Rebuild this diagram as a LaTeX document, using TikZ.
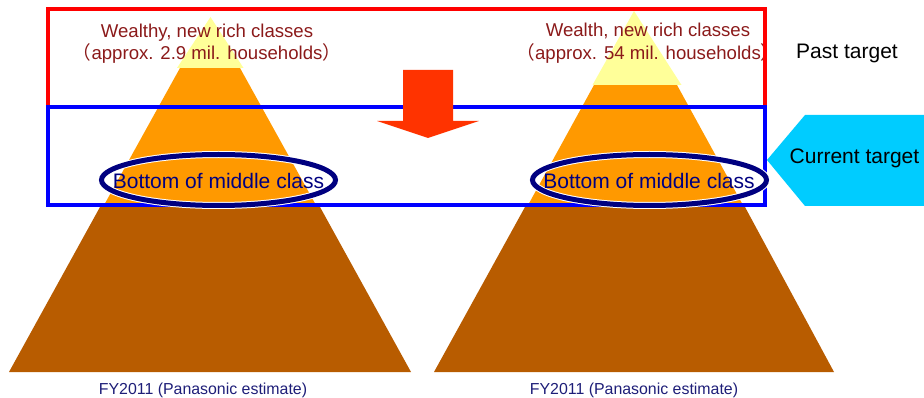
\documentclass[tikz,border=0pt]{standalone}
\usepackage{fontspec}
\setmainfont{Liberation Sans}
\newfontfamily\cjkfont{Noto Sans CJK JP}
\definecolor{pyyellow}{RGB}{255,255,153}
\definecolor{pyorange}{RGB}{255,153,0}
\definecolor{pybrown}{RGB}{184,92,0}
\definecolor{boxred}{RGB}{255,0,0}
\definecolor{boxblue}{RGB}{0,0,255}
\definecolor{ellnavy}{RGB}{0,0,128}
\definecolor{arrowred}{RGB}{255,51,0}
\definecolor{tagcyan}{RGB}{0,204,255}
\definecolor{wealthred}{RGB}{139,26,26}
\definecolor{fynavy}{RGB}{30,30,120}
\tikzset{
  wealthlabel/.style={inner sep=0pt, align=center, text=wealthred, font=\fontsize{18.6}{22.5}\selectfont},
  targetlabel/.style={inner sep=0pt, text=black, font=\fontsize{21}{25}\selectfont},
  classlabel/.style={inner sep=0pt, text=ellnavy, font=\fontsize{21}{25}\selectfont},
  fylabel/.style={inner sep=0pt, text=fynavy, font=\fontsize{15.9}{19}\selectfont},
  ringwhite/.style={draw=white, line width=7pt},
  ringnavy/.style={draw=ellnavy, line width=5pt},
}
\begin{document}
\begin{tikzpicture}[x=1pt,y=-1pt]
\useasboundingbox (0,0) rectangle (924,398);
% left pyramid
\fill[pybrown] (100,207) -- (320,207) -- (411,372) -- (9,372) -- cycle;
\fill[pyorange] (180,68) -- (240,68) -- (317,207) -- (103,207) -- cycle;
\fill[pyyellow] (210.5,17) -- (243.5,68) -- (177,68) -- cycle;
% right pyramid
\fill[pybrown] (525,207) -- (745,207) -- (834,372) -- (434,372) -- cycle;
\fill[pyorange] (594,85) -- (677,85) -- (744,207) -- (527,207) -- cycle;
\fill[pyyellow] (634,11) -- (681.5,85) -- (592.5,85) -- cycle;
% wealth labels
\node[wealthlabel] (wl) at (207,43.5) {Wealthy, new rich classes\\{\cjkfont （}approx. 2.9 mil. households{\cjkfont ）}};
\node[wealthlabel] (wr) at (648,43) {Wealth, new rich classes\\{\cjkfont （}approx. 54 mil. households{\cjkfont ）}};
% boxes
\draw[boxred, line width=3.5pt] (48,107) -- (48,9) -- (765,9) -- (765,107);
\draw[boxblue, line width=4pt] (48,107) rectangle (765,205);
% arrow
\fill[arrowred] (403,70) -- (453,70) -- (453,121) -- (479,121) -- (428,138) -- (377,121) -- (403,121) -- cycle;
% ellipses
\draw[ringwhite] (218.5,180) ellipse [x radius=117pt, y radius=25.5pt];
\draw[ringnavy] (218.5,180) ellipse [x radius=117pt, y radius=25.5pt];
\draw[ringwhite] (649.5,180) ellipse [x radius=117pt, y radius=25.5pt];
\draw[ringnavy] (649.5,180) ellipse [x radius=117pt, y radius=25.5pt];
\node[classlabel] (cl) at (218.5,181) {Bottom of middle class};
\node[classlabel] (cr) at (649,181) {Bottom of middle class};
% targets
\node[targetlabel] (past) at (847,53) {Past target};
\fill[tagcyan] (767,160) -- (805,115) -- (924,115) -- (924,206) -- (805,206) -- cycle;
\node[targetlabel] (cur) at (854.5,158) {Current target};
% FY labels
\node[fylabel] (fyl) at (203,390) {FY2011 (Panasonic estimate)};
\node[fylabel] (fyr) at (634,390) {FY2011 (Panasonic estimate)};
\end{tikzpicture}
\end{document}
